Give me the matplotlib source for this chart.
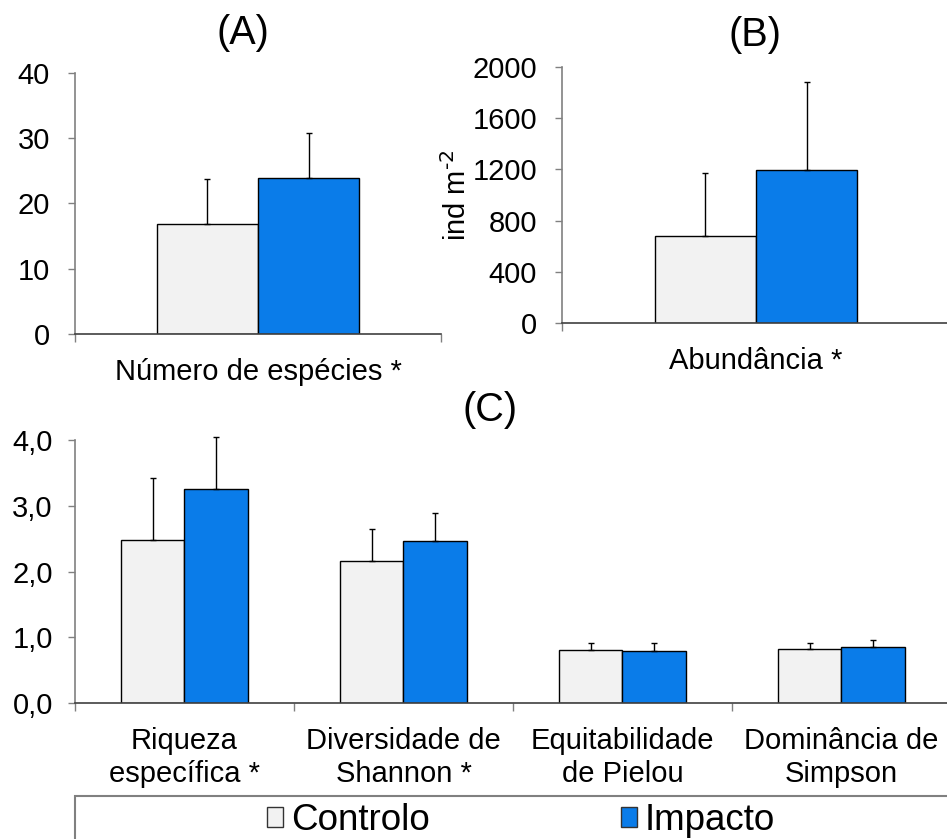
import matplotlib.pyplot as plt
import numpy as np
from matplotlib.patches import Patch, Rectangle

plt.rcParams['font.family'] = ['Liberation Sans', 'DejaVu Sans']

groups = ['Controlo', 'Impacto']
colors = ['#f2f2f2', '#0a7ce9']

# (A) number of species
species_labels = ['Número de espécies *']
species_ctrl = [16.8]
species_ctrl_err = [7.0]
species_imp = [23.9]
species_imp_err = [6.9]
species_ticks = [0, 10, 20, 30, 40]
species_ticklabels = ['0', '10', '20', '30', '40']

# (B) abundance
abund_labels = ['Abundância *']
abund_ctrl = [680]
abund_ctrl_err = [495]
abund_imp = [1195]
abund_imp_err = [690]
abund_ticks = [0, 400, 800, 1200, 1600, 2000]
abund_ticklabels = ['0', '400', '800', '1200', '1600', '2000']

# (C) diversity indices
div_labels = ['Riqueza\nespecífica *', 'Diversidade de\nShannon *',
              'Equitabilidade\nde Pielou', 'Dominância de\nSimpson']
div_ctrl = [2.48, 2.16, 0.80, 0.82]
div_ctrl_err = [0.94, 0.49, 0.12, 0.09]
div_imp = [3.26, 2.47, 0.79, 0.85]
div_imp_err = [0.79, 0.42, 0.12, 0.11]
div_ticks = [0, 1, 2, 3, 4]
div_ticklabels = ['0,0', '1,0', '2,0', '3,0', '4,0']

FS = 21


def draw_panel(ax, labels, ctrl, ctrl_err, imp, imp_err, width,
               ticks, ticklabels, ypad):
    x = np.arange(len(labels))
    for vals, errs, col, off in [(ctrl, ctrl_err, colors[0], -width / 2),
                                 (imp, imp_err, colors[1], width / 2)]:
        ax.bar(x + off, vals, width=width, color=col, edgecolor='black',
               linewidth=1, zorder=2)
        eb = ax.errorbar(x + off, vals, yerr=[np.zeros(len(vals)), errs],
                         fmt='none', ecolor='black', elinewidth=1,
                         capsize=2.5, capthick=1, zorder=3)
        for art in eb.lines[1] + eb.lines[2]:
            art.set_clip_on(False)
    ax.set_xlim(-0.5, len(labels) - 0.5)
    ax.set_ylim(ticks[0], ticks[-1])
    ax.set_yticks(ticks)
    ax.set_yticklabels(ticklabels, fontsize=FS)
    ax.set_xticks(x)
    ax.set_xticklabels(labels, fontsize=FS, linespacing=1.22)
    ax.set_xticks(np.arange(len(labels) + 1) - 0.5, minor=True)
    ax.tick_params(axis='x', which='major', length=0, pad=17)
    ax.tick_params(axis='x', which='minor', length=6, width=1,
                   color='#808080', direction='out')
    ax.tick_params(axis='y', length=5, width=1, color='#808080',
                   direction='out', pad=ypad)
    ax.spines['top'].set_visible(False)
    ax.spines['right'].set_visible(False)
    ax.spines['left'].set_color('#808080')
    ax.spines['bottom'].set_color('#404040')
    ax.spines['left'].set_linewidth(1.2)
    ax.spines['bottom'].set_linewidth(1.2)


fig = plt.figure(figsize=(9.47, 8.39), dpi=100)

ax_a = fig.add_axes([0.0792, 0.602, 0.3865, 0.311])
draw_panel(ax_a, species_labels, species_ctrl, species_ctrl_err,
           species_imp, species_imp_err, 0.277,
           species_ticks, species_ticklabels, 13)

ax_b = fig.add_axes([0.5935, 0.615, 0.4097, 0.305])
draw_panel(ax_b, abund_labels, abund_ctrl, abund_ctrl_err,
           abund_imp, abund_imp_err, 0.261,
           abund_ticks, abund_ticklabels, 13)
fig.text(0.483, 0.768, 'ind m$^{\\text{-2}}$', rotation=90,
         ha='center', va='center', fontsize=FS)

ax_c = fig.add_axes([0.0792, 0.162, 0.925, 0.3136])
draw_panel(ax_c, div_labels, div_ctrl, div_ctrl_err,
           div_imp, div_imp_err, 0.288,
           div_ticks, div_ticklabels, 11)
ax_c.tick_params(axis='x', which='major', pad=17)

fig.text(0.257, 0.961, '(A)', ha='center', va='center', fontsize=28.5)
fig.text(0.797, 0.958, '(B)', ha='center', va='center', fontsize=28.5)
fig.text(0.517, 0.511, '(C)', ha='center', va='center', fontsize=28.5)

# legend box along the bottom
fig.patches.append(Rectangle((0.0792, -0.05), 1.0, 0.1013,
                             transform=fig.transFigure, facecolor='none',
                             edgecolor='#808080', linewidth=1.5))
handles = [Patch(facecolor=c, edgecolor='#333333') for c in colors]
fig.legend(handles, groups, ncol=2, loc='center',
           bbox_to_anchor=(0.550, 0.022), frameon=False, fontsize=26.5,
           handlelength=0.45, handleheight=0.45, handletextpad=0.2,
           columnspacing=5.2)

fig.savefig('out.png', dpi=100)
